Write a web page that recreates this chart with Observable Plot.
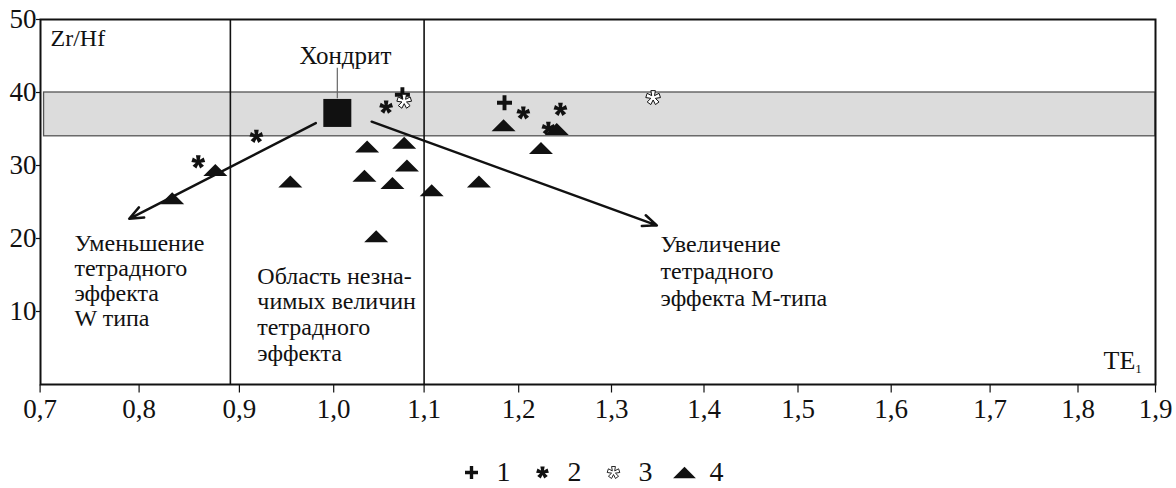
<!DOCTYPE html>
<html><head><meta charset="utf-8">
<script src="https://cdn.jsdelivr.net/npm/d3@7"></script>
<script src="https://cdn.jsdelivr.net/npm/@observablehq/plot@0.6"></script>
<style>
html,body{margin:0;padding:0;background:#fff;}
svg{display:block;}
</style></head><body><div id="chart"></div><div id="legend"></div>
<script>
// ---- data ----
const xTicks = [0.7,0.8,0.9,1.0,1.1,1.2,1.3,1.4,1.5,1.6,1.7,1.8,1.9];
const yTicks = [10,20,30,40,50];
const seriesLabels = ["1","2","3","4"];
const series1 = [[1.076,39.7],[1.185,38.6]];
const series2 = [[0.859,30.5],[0.918,34.0],[1.058,38.0],[1.205,37.2],[1.245,37.7],[1.232,35.1]];
const series3 = [[1.078,38.8],[1.345,39.3]];
const series4 = [[0.833,25.5],[0.876,29.4],[0.954,27.8],[1.037,32.6],[1.078,33.1],[1.081,30.0],[1.034,28.6],[1.065,27.6],[1.108,26.6],[1.047,20.3],[1.158,27.8],[1.184,35.5],[1.241,35.0],[1.224,32.4]];
const chondrite = [[1.004,37.2]];
const chondriteLabel = ["Хондрит"];
const bandZrHf = [{teFrom:0.704, teTo:1.9, low:34, high:40}];
const boundariesTE = [0.891, 1.10];
const trendArrows = [{from:[0.981,35.8], to:[0.790,22.7]}, {from:[1.042,36.0], to:[1.349,21.8]}];
const regionTexts = ["Уменьшение\nтетрадного\nэффекта\nW типа",
                     "Область незна-\nчимых величин\nтетрадного\nэффекта",
                     "Увеличение\nтетрадного\nэффекта М-типа"];
const yLabel = ["Zr/Hf"];
const xLabel = ["TE", "1"];

// ---- hand-drawn, non-uniform tick spacing of the original axis (piecewise transform) ----
const xTickPixels = [39.6,138.6,238.9,333.2,423.6,518.2,611,703.5,797.5,890.7,989.6,1077.5,1155];
const warpX = d3.scaleLinear().domain(xTicks).range(xTickPixels);

// ---- custom symbols ----
const R = s => Math.sqrt(s/Math.PI);
const plusSym = {draw(ctx, size){const r=R(size), t=0.26*r;
  ctx.moveTo(-r,-t); ctx.lineTo(-t,-t); ctx.lineTo(-t,-r); ctx.lineTo(t,-r); ctx.lineTo(t,-t); ctx.lineTo(r,-t);
  ctx.lineTo(r,t); ctx.lineTo(t,t); ctx.lineTo(t,r); ctx.lineTo(-t,r); ctx.lineTo(-t,t); ctx.lineTo(-r,t); ctx.closePath();}};
function asterisk(wIn, wOut){ return {draw(ctx,size){
  const r=R(size), w=wIn*r, w2=wOut*r, ri=w/Math.sin(Math.PI/5);
  for(let k=0;k<5;k++){
    const th=-Math.PI/2+k*2*Math.PI/5, a0=th-Math.PI/5;
    const ux=Math.cos(th), uy=Math.sin(th), vx=-uy, vy=ux;
    const ix=ri*Math.cos(a0), iy=ri*Math.sin(a0);
    if(k===0) ctx.moveTo(ix,iy); else ctx.lineTo(ix,iy);
    ctx.lineTo(r*ux - w2*vx, r*uy - w2*vy);
    ctx.lineTo(r*ux + w2*vx, r*uy + w2*vy);
  }
  ctx.closePath();}};}
const astSolid = asterisk(0.24, 0.36);
const astOpen = asterisk(0.2, 0.32);
const triSym = {draw(ctx,size){const r=R(size); ctx.moveTo(-1.2*r,0.6*r); ctx.lineTo(0,-0.6*r); ctx.lineTo(1.2*r,0.6*r); ctx.closePath();}};
const tickDown = {draw(ctx){ctx.moveTo(0,0); ctx.lineTo(0,8);}};

const serif = "Liberation Serif, Times New Roman, serif";
const ink = "#111";
const fmt = d => d.toFixed(1).replace(".", ",");
const px = d => d[0], py = d => d[1];

const chart = Plot.plot({
  width: 1176, height: 426,
  marginLeft: 40, marginRight: 21, marginTop: 19, marginBottom: 42,
  style: {fontFamily: serif, fontSize: "27px", color: ink, background: "#fff"},
  x: {type: "linear", transform: d => warpX(d), domain: [39.6, 1155], range: [39.6, 1155], axis: null},
  y: {domain: [0, 50]},
  marks: [
    Plot.rect(bandZrHf, {x1: "teFrom", x2: "teTo", y1: "low", y2: "high", fill: "#dcdcdc", stroke: "#555", strokeWidth: 1.3}),
    Plot.ruleX(boundariesTE, {stroke: ink, strokeWidth: 1.6}),
    Plot.frame({stroke: ink, strokeWidth: 2}),
    // x axis built from the tick list (ticks and labels follow the warped scale)
    Plot.dot(xTicks, {x: d => d, y: () => 0, symbol: tickDown, stroke: ink, strokeWidth: 1.2, fill: "none"}),
    Plot.text(xTicks, {x: d => d, y: () => 0, text: fmt, lineAnchor: "top", dy: 14, fontSize: 27, fontFamily: serif, fill: ink}),
    Plot.axisY({ticks: yTicks, tickSize: 4, tickPadding: 0, fontSize: 27, fontFamily: serif, strokeWidth: 1.2}),
    Plot.arrow(trendArrows, {x1: d=>d.from[0], y1: d=>d.from[1], x2: d=>d.to[0], y2: d=>d.to[1], stroke: ink, strokeWidth: 2.5, headLength: 9, headAngle: 45}),
    Plot.link(chondrite, {x1: px, x2: px, y1: () => 39.2, y2: () => 43.4, stroke: "#666", strokeWidth: 1.2}),
    Plot.dot(chondrite, {x: px, y: py, symbol: "square", r: 15.8, fill: ink, stroke: "none"}),
    Plot.text(chondriteLabel, {x: () => 1.013, y: () => 45.0, text: d => d, fontSize: 25, fontFamily: serif, fill: ink}),
    Plot.dot(series1, {x: px, y: py, symbol: plusSym, r: 7.5, fill: ink, stroke: "none"}),
    Plot.dot(series2, {x: px, y: py, symbol: astSolid, r: 6.5, fill: ink, stroke: "none"}),
    Plot.dot(series4, {x: px, y: py, symbol: triSym, r: 10, fill: ink, stroke: "none"}),
    Plot.dot(series3, {x: px, y: py, symbol: astOpen, r: 7, fill: "#fff", stroke: ink, strokeWidth: 1}),
    Plot.text([regionTexts[0]], {x: () => 0.7347, y: () => 20.7, text: d => d, textAnchor: "start", lineAnchor: "top", lineHeight: 1.04, fontSize: 24, fontFamily: serif, fill: ink}),
    Plot.text([regionTexts[1]], {x: () => 0.919, y: () => 16.3, text: d => d, textAnchor: "start", lineAnchor: "top", lineHeight: 1.07, fontSize: 24, fontFamily: serif, fill: ink}),
    Plot.text([regionTexts[2]], {x: () => 1.353, y: () => 20.8, text: d => d, textAnchor: "start", lineAnchor: "top", lineHeight: 1.12, fontSize: 24, fontFamily: serif, fill: ink}),
    Plot.text(yLabel, {x: () => 0.7105, y: () => 47.4, text: d => d, textAnchor: "start", fontSize: 24, fontFamily: serif, fill: ink}),
    Plot.text([xLabel[0]], {x: () => 1.874, y: () => 3.3, text: d => d, textAnchor: "end", fontSize: 26, fontFamily: serif, fill: ink}),
    Plot.text([xLabel[1]], {x: () => 1.874, y: () => 2.2, text: d => d, textAnchor: "start", fontSize: 13, fontFamily: serif, fill: ink})
  ]
});
document.getElementById("chart").appendChild(chart);

const legend = Plot.plot({
  width: 1176, height: 62, marginTop: 30, marginBottom: 0, marginLeft: 0, marginRight: 0,
  style: {fontFamily: serif, color: ink, background: "#fff"},
  x: {type: "point", domain: seriesLabels, range: [435, 720], axis: null},
  marks: [
    Plot.dot([seriesLabels[0]], {x: d => d, symbol: plusSym, r: 6.5, fill: ink, stroke: "none"}),
    Plot.dot([seriesLabels[1]], {x: d => d, symbol: astSolid, r: 6, fill: ink, stroke: "none"}),
    Plot.dot([seriesLabels[2]], {x: d => d, symbol: astOpen, r: 6, fill: "#fff", stroke: ink, strokeWidth: 0.9}),
    Plot.dot([seriesLabels[3]], {x: d => d, symbol: triSym, r: 9.5, fill: ink, stroke: "none"}),
    Plot.text(seriesLabels, {x: d => d, text: d => d, dx: 25, textAnchor: "start", fontSize: 28, fontFamily: serif, fill: ink})
  ]
});
document.getElementById("legend").appendChild(legend);
</script></body></html>
